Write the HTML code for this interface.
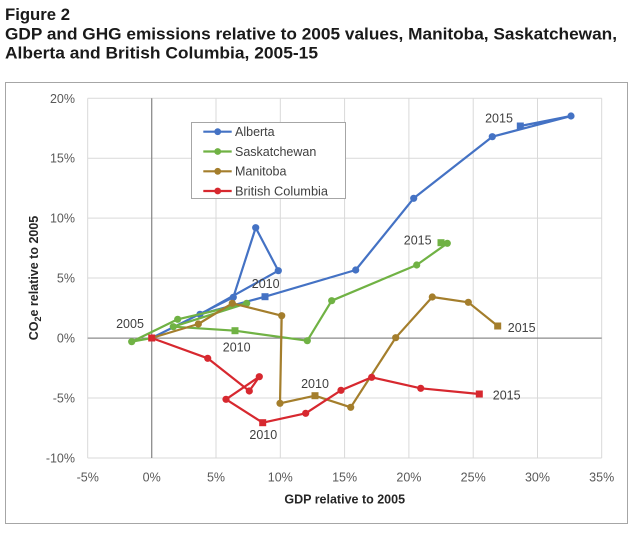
<!DOCTYPE html>
<html><head><meta charset="utf-8"><style>
html,body{margin:0;padding:0;background:#fff;}
svg{display:block;}
text{font-family:"Liberation Sans",sans-serif;}
</style></head><body>
<svg width="639" height="535" viewBox="0 0 639 535" xmlns="http://www.w3.org/2000/svg">
<rect x="0" y="0" width="639" height="535" fill="#fff"/>
<!-- Title -->
<text x="5" y="20" font-size="16.5" font-weight="bold" fill="#1a1a1a" textLength="65" lengthAdjust="spacingAndGlyphs">Figure 2</text>
<text x="5" y="39.5" font-size="16.5" font-weight="bold" fill="#1a1a1a" textLength="612" lengthAdjust="spacingAndGlyphs">GDP and GHG emissions relative to 2005 values, Manitoba, Saskatchewan,</text>
<text x="5" y="58.5" font-size="16.5" font-weight="bold" fill="#1a1a1a" textLength="313" lengthAdjust="spacingAndGlyphs">Alberta and British Columbia, 2005-15</text>
<!-- Chart border -->
<rect x="5.5" y="82.5" width="622" height="441" fill="#fff" stroke="#a6a6a6" stroke-width="1"/>
<!-- Gridlines -->
<g stroke="#d9d9d9" stroke-width="1">
<line x1="87.7" y1="98.3" x2="601.7" y2="98.3"/>
<line x1="87.7" y1="158.2" x2="601.7" y2="158.2"/>
<line x1="87.7" y1="218.1" x2="601.7" y2="218.1"/>
<line x1="87.7" y1="278" x2="601.7" y2="278"/>
<line x1="87.7" y1="398" x2="601.7" y2="398"/>
<line x1="87.7" y1="458" x2="601.7" y2="458"/>
<line x1="87.7" y1="98.3" x2="87.7" y2="458"/>
<line x1="216" y1="98.3" x2="216" y2="458"/>
<line x1="280.3" y1="98.3" x2="280.3" y2="458"/>
<line x1="344.6" y1="98.3" x2="344.6" y2="458"/>
<line x1="408.9" y1="98.3" x2="408.9" y2="458"/>
<line x1="473.2" y1="98.3" x2="473.2" y2="458"/>
<line x1="537.5" y1="98.3" x2="537.5" y2="458"/>
<line x1="601.7" y1="98.3" x2="601.7" y2="458"/>
</g>
<!-- Zero axes -->
<g stroke="#8c8c8c" stroke-width="1.3">
<line x1="87.7" y1="338.1" x2="601.7" y2="338.1"/>
<line x1="151.7" y1="98.3" x2="151.7" y2="458"/>
</g>
<!-- Y tick labels -->
<g font-size="12.5" fill="#595959" text-anchor="end">
<text x="75" y="102.8">20%</text>
<text x="75" y="162.7">15%</text>
<text x="75" y="222.6">10%</text>
<text x="75" y="282.5">5%</text>
<text x="75" y="342.6">0%</text>
<text x="75" y="402.5">-5%</text>
<text x="75" y="462.5">-10%</text>
</g>
<!-- X tick labels -->
<g font-size="12.5" fill="#595959" text-anchor="middle">
<text x="87.7" y="481.5">-5%</text>
<text x="151.7" y="481.5">0%</text>
<text x="216" y="481.5">5%</text>
<text x="280.3" y="481.5">10%</text>
<text x="344.6" y="481.5">15%</text>
<text x="408.9" y="481.5">20%</text>
<text x="473.2" y="481.5">25%</text>
<text x="537.5" y="481.5">30%</text>
<text x="601.7" y="481.5">35%</text>
</g>
<!-- Axis titles -->
<text x="344.7" y="503.5" font-size="12.5" font-weight="bold" fill="#262626" text-anchor="middle">GDP relative to 2005</text>
<text transform="translate(38,278) rotate(-90)" font-size="12.5" font-weight="bold" fill="#262626" text-anchor="middle">CO<tspan font-size="9" dy="3">2</tspan><tspan dy="-3">e relative to 2005</tspan></text>

<!-- Alberta -->
<g stroke="#4472C4" fill="#4472C4">
<polyline fill="none" stroke-width="2.2" stroke-linejoin="round" points="151.7,338 233.3,297.3 255.7,227.7 278.3,270.7 200,314.3 265,296.7 355.7,270 413.7,198.3 492.3,136.7 571,116 520.3,126"/>
<g stroke="none">
<circle cx="233.3" cy="297.3" r="3.6"/>
<circle cx="255.7" cy="227.7" r="3.6"/>
<circle cx="278.3" cy="270.7" r="3.6"/>
<circle cx="200" cy="314.3" r="3.6"/>
<rect x="261.5" y="293.2" width="7" height="7"/>
<circle cx="355.7" cy="270" r="3.6"/>
<circle cx="413.7" cy="198.3" r="3.6"/>
<circle cx="492.3" cy="136.7" r="3.6"/>
<circle cx="571" cy="116" r="3.6"/>
<rect x="516.8" y="122.5" width="7" height="7"/>
</g>
</g>
<!-- Saskatchewan -->
<g stroke="#70B244" fill="#70B244">
<polyline fill="none" stroke-width="2.2" stroke-linejoin="round" points="151.7,338 131.7,341.7 177.7,319.3 246.7,303.3 173.3,326.7 235,330.7 307.3,340.7 331.7,300.7 416.7,265 447.3,243.3 441,242.7"/>
<g stroke="none">
<circle cx="131.7" cy="341.7" r="3.6"/>
<circle cx="177.7" cy="319.3" r="3.6"/>
<circle cx="246.7" cy="303.3" r="3.6"/>
<circle cx="173.3" cy="326.7" r="3.6"/>
<rect x="231.5" y="327.2" width="7" height="7"/>
<circle cx="307.3" cy="340.7" r="3.6"/>
<circle cx="331.7" cy="300.7" r="3.6"/>
<circle cx="416.7" cy="265" r="3.6"/>
<circle cx="447.3" cy="243.3" r="3.6"/>
<rect x="437.5" y="239.2" width="7" height="7"/>
</g>
</g>
<!-- Manitoba -->
<g stroke="#A47E2C" fill="#A47E2C">
<polyline fill="none" stroke-width="2.2" stroke-linejoin="round" points="151.7,338 198.3,324 232.3,303.3 281.7,315.7 280,403.3 315,395.7 350.7,407.3 395.7,337.7 432.3,297 468.3,302.3 497.7,326"/>
<g stroke="none">
<circle cx="198.3" cy="324" r="3.6"/>
<circle cx="232.3" cy="303.3" r="3.6"/>
<circle cx="281.7" cy="315.7" r="3.6"/>
<circle cx="280" cy="403.3" r="3.6"/>
<rect x="311.5" y="392.2" width="7" height="7"/>
<circle cx="350.7" cy="407.3" r="3.6"/>
<circle cx="395.7" cy="337.7" r="3.6"/>
<circle cx="432.3" cy="297" r="3.6"/>
<circle cx="468.3" cy="302.3" r="3.6"/>
<rect x="494.2" y="322.5" width="7" height="7"/>
</g>
</g>
<!-- British Columbia -->
<g stroke="#D7282F" fill="#D7282F">
<polyline fill="none" stroke-width="2.2" stroke-linejoin="round" points="151.7,338 207.7,358.3 249.3,391 259.3,376.7 226,399.3 262.7,422.7 305.7,413.3 341,390.3 371.7,377.3 420.7,388.3 479.3,394"/>
<g stroke="none">
<rect x="148.2" y="334.5" width="7" height="7"/>
<circle cx="207.7" cy="358.3" r="3.6"/>
<circle cx="249.3" cy="391" r="3.6"/>
<circle cx="259.3" cy="376.7" r="3.6"/>
<circle cx="226" cy="399.3" r="3.6"/>
<rect x="259.2" y="419.2" width="7" height="7"/>
<circle cx="305.7" cy="413.3" r="3.6"/>
<circle cx="341" cy="390.3" r="3.6"/>
<circle cx="371.7" cy="377.3" r="3.6"/>
<circle cx="420.7" cy="388.3" r="3.6"/>
<rect x="475.8" y="390.5" width="7" height="7"/>
</g>
</g>

<!-- Year labels -->
<g font-size="12.5" fill="#404040" text-anchor="middle">
<text x="130" y="328">2005</text>
<text x="265.7" y="288">2010</text>
<text x="236.7" y="351.5">2010</text>
<text x="315" y="388">2010</text>
<text x="263.3" y="439">2010</text>
<text x="499" y="122.5">2015</text>
<text x="417.7" y="244.5">2015</text>
<text x="521.7" y="332">2015</text>
<text x="506.7" y="399.5">2015</text>
</g>

<!-- Legend -->
<rect x="191.5" y="122.5" width="154" height="76" fill="#fff" stroke="#a6a6a6" stroke-width="1"/>
<g stroke-width="2.2">
<line x1="203.3" y1="131.7" x2="231.7" y2="131.7" stroke="#4472C4"/>
<circle cx="217.7" cy="131.7" r="3.4" fill="#4472C4"/>
<line x1="203.3" y1="151.5" x2="231.7" y2="151.5" stroke="#70B244"/>
<circle cx="217.7" cy="151.5" r="3.4" fill="#70B244"/>
<line x1="203.3" y1="171.3" x2="231.7" y2="171.3" stroke="#A47E2C"/>
<circle cx="217.7" cy="171.3" r="3.4" fill="#A47E2C"/>
<line x1="203.3" y1="191" x2="231.7" y2="191" stroke="#D7282F"/>
<circle cx="217.7" cy="191" r="3.4" fill="#D7282F"/>
</g>
<g font-size="12.5" fill="#404040">
<text x="235" y="136">Alberta</text>
<text x="235" y="155.8">Saskatchewan</text>
<text x="235" y="175.6">Manitoba</text>
<text x="235" y="195.3" textLength="93" lengthAdjust="spacingAndGlyphs">British Columbia</text>
</g>
</svg>
</body></html>
